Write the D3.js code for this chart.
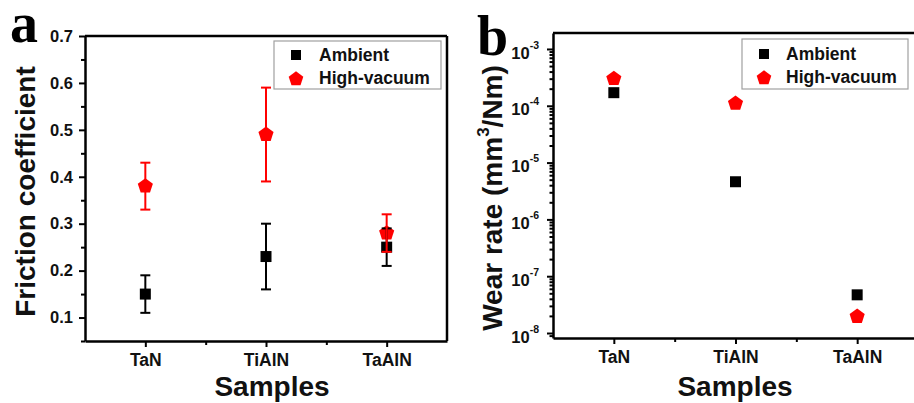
<!DOCTYPE html>
<html>
<head>
<meta charset="utf-8">
<script src="https://cdn.jsdelivr.net/npm/d3@7"></script>
<style>
  html, body { margin: 0; padding: 0; background: #fff; }
  svg { display: block; font-family: "Liberation Sans", Arial, sans-serif; }
</style>
</head>
<body>
<svg id="chart" width="914" height="403"></svg>
<script>
// ---------------- data ----------------
const categories = ["TaN", "TiAlN", "TaAlN"];
const seriesNames = ["Ambient", "High-vacuum"];
const frictionAmbient = [0.15, 0.23, 0.25];
const frictionAmbientErr = [0.04, 0.07, 0.04];
const frictionVacuum = [0.38, 0.49, 0.28];
const frictionVacuumErr = [0.05, 0.10, 0.04];
const wearAmbient = [1.7e-4, 4.6e-6, 4.7e-8];
const wearVacuum = [3.0e-4, 1.1e-4, 1.95e-8];
const frictionTicks = [0.1, 0.2, 0.3, 0.4, 0.5, 0.6, 0.7];
const frictionMinorTicks = [0.05, 0.15, 0.25, 0.35, 0.45, 0.55, 0.65];
const wearExponents = [-8, -7, -6, -5, -4, -3];

// ---------------- helpers ----------------
const svg = d3.select("#chart");
const RED = "#ff0000";

const pentagon = {
  draw(context, size) {
    const r = Math.sqrt(size / 2.3776);
    for (let i = 0; i < 5; i++) {
      const a = -Math.PI / 2 + i * 2 * Math.PI / 5;
      const x = r * Math.cos(a), y = r * Math.sin(a);
      if (i === 0) context.moveTo(x, y); else context.lineTo(x, y);
    }
    context.closePath();
  }
};
const squareSym = d3.symbol().type(d3.symbolSquare).size(121);
const pentSym = d3.symbol().type(pentagon).size(150);
const squareLeg = d3.symbol().type(d3.symbolSquare).size(100);
const pentLeg = d3.symbol().type(pentagon).size(140);

function styleAxis(g) {
  g.select(".domain").attr("stroke", "#000").attr("stroke-width", 2.5);
  g.selectAll(".tick line").attr("stroke", "#000").attr("stroke-width", 2);
  g.selectAll(".tick text").attr("fill", "#111").attr("font-weight", "bold");
}

function drawXAxis(g, x, yPos) {
  const idx = categories.map((d, i) => i + 1);
  const ax = g.append("g").attr("transform", `translate(0,${yPos})`)
    .call(d3.axisBottom(x).tickValues(idx).tickSize(6).tickSizeOuter(0)
      .tickPadding(7).tickFormat((d) => categories[d - 1]));
  ax.selectAll(".tick text").attr("font-size", 17.5);
  styleAxis(ax);
  const minor = g.append("g").attr("transform", `translate(0,${yPos})`)
    .call(d3.axisBottom(x).tickValues([1.5, 2.5]).tickSize(4).tickSizeOuter(0).tickFormat(""));
  minor.select(".domain").remove();
  styleAxis(minor);
}

function drawLegend(g, x0, y0, x1, y1, mx, tx, rows) {
  g.append("rect").attr("x", x0).attr("y", y0).attr("width", x1 - x0).attr("height", y1 - y0)
    .attr("fill", "#fff").attr("stroke", "#a0a0a0").attr("stroke-width", 1.2);
  rows.forEach((r) => {
    g.append("path").attr("d", r.sym()).attr("fill", r.color)
      .attr("transform", `translate(${mx},${r.my})`);
    g.append("text").attr("x", tx).attr("y", r.ty).attr("font-size", 17.5)
      .attr("font-weight", "bold").attr("fill", "#111").text(r.label);
  });
}

// ================= Panel a =================
{
  const g = svg.append("g");
  const x = d3.scaleLinear().domain([0.5, 3.5]).range([85, 447]);
  const y = d3.scaleLinear().domain([0.05, 0.7]).range([341, 36]);

  g.append("line").attr("x1", x.range()[0]).attr("x2", x.range()[1])
    .attr("y1", y.range()[1]).attr("y2", y.range()[1]).attr("stroke", "#000").attr("stroke-width", 2.5);
  g.append("line").attr("x1", x.range()[1]).attr("x2", x.range()[1])
    .attr("y1", y.range()[1]).attr("y2", y.range()[0]).attr("stroke", "#000").attr("stroke-width", 2.5);

  const ya = g.append("g").attr("transform", `translate(${x.range()[0]},0)`)
    .call(d3.axisLeft(y).tickValues(frictionTicks).tickSize(6).tickSizeOuter(0)
      .tickPadding(6).tickFormat(d3.format(".1f")));
  ya.selectAll(".tick text").attr("font-size", 16.5);
  styleAxis(ya);
  const yam = g.append("g").attr("transform", `translate(${x.range()[0]},0)`)
    .call(d3.axisLeft(y).tickValues(frictionMinorTicks).tickSize(4).tickSizeOuter(0).tickFormat(""));
  yam.select(".domain").remove();
  styleAxis(yam);

  drawXAxis(g, x, y.range()[0]);

  g.selectAll(".amb").data(frictionAmbient).join("path")
    .attr("d", squareSym()).attr("fill", "#000")
    .attr("transform", (d, i) => `translate(${x(i + 1)},${y(d)})`);
  g.selectAll(".vac").data(frictionVacuum).join("path")
    .attr("d", pentSym()).attr("fill", RED)
    .attr("transform", (d, i) => `translate(${x(i + 1)},${y(d)})`);

  function errBars(vals, errs, color) {
    vals.forEach((v, i) => {
      const cx = x(i + 1), hi = y(v + errs[i]), lo = y(v - errs[i]);
      g.append("line").attr("x1", cx).attr("x2", cx).attr("y1", hi).attr("y2", lo)
        .attr("stroke", color).attr("stroke-width", 2);
      [hi, lo].forEach((yy) => g.append("line").attr("x1", cx - 5).attr("x2", cx + 5)
        .attr("y1", yy).attr("y2", yy).attr("stroke", color).attr("stroke-width", 2));
    });
  }
  errBars(frictionAmbient, frictionAmbientErr, "#000");
  errBars(frictionVacuum, frictionVacuumErr, RED);

  drawLegend(g, 274, 41, 441, 89, 296, 319, [
    { sym: squareLeg, color: "#000", my: 55, ty: 61, label: seriesNames[0] },
    { sym: pentLeg, color: RED, my: 79, ty: 84, label: seriesNames[1] }
  ]);

  g.append("text").attr("transform", "translate(35,191.5) rotate(-90)")
    .attr("text-anchor", "middle").attr("font-size", 28).attr("font-weight", "bold")
    .attr("fill", "#111").text("Friction coefficient");
  g.append("text").attr("x", 272).attr("y", 396).attr("text-anchor", "middle")
    .attr("font-size", 28).attr("font-weight", "bold").attr("fill", "#111").text("Samples");
  g.append("text").attr("x", 10).attr("y", 42)
    .attr("font-family", "'Liberation Serif', 'Times New Roman', serif")
    .attr("font-size", 56).attr("font-weight", "bold").attr("fill", "#000").text("a");
}

// ================= Panel b =================
{
  const g = svg.append("g");
  const x = d3.scaleLinear().domain([0.5, 3.5]).range([553, 918]);
  const y = d3.scaleLog().domain([8.17e-9, 1.91e-3]).range([338, 33]);

  g.append("line").attr("x1", x.range()[0]).attr("x2", x.range()[1])
    .attr("y1", y.range()[1]).attr("y2", y.range()[1]).attr("stroke", "#000").attr("stroke-width", 2.5);
  g.append("line").attr("x1", x.range()[1]).attr("x2", x.range()[1])
    .attr("y1", y.range()[1]).attr("y2", y.range()[0]).attr("stroke", "#000").attr("stroke-width", 2.5);

  const majors = wearExponents.map((e) => Math.pow(10, e));
  const minors = [];
  wearExponents.concat([-9, -2]).forEach((e) => {
    for (let k = 2; k <= 9; k++) {
      const v = k * Math.pow(10, e);
      if (v > y.domain()[0] && v < y.domain()[1]) minors.push(v);
    }
  });

  const ya = g.append("g").attr("transform", `translate(${x.range()[0]},0)`)
    .call(d3.axisLeft(y).tickValues(majors).tickSize(6).tickSizeOuter(0).tickPadding(8)
      .tickFormat(() => ""));
  styleAxis(ya);
  ya.selectAll(".tick text").each(function (d) {
    const t = d3.select(this).attr("font-size", 16.5).attr("dy", "0.55em");
    t.append("tspan").text("10");
    t.append("tspan").attr("font-size", 10.5).attr("dy", "-0.95em")
      .text(String(Math.round(Math.log10(d))));
  });
  const yam = g.append("g").attr("transform", `translate(${x.range()[0]},0)`)
    .call(d3.axisLeft(y).tickValues(minors).tickSize(3.5).tickSizeOuter(0).tickFormat(""));
  yam.select(".domain").remove();
  styleAxis(yam);

  drawXAxis(g, x, y.range()[0]);

  g.selectAll(".amb").data(wearAmbient).join("path")
    .attr("d", squareSym()).attr("fill", "#000")
    .attr("transform", (d, i) => `translate(${x(i + 1)},${y(d)})`);
  g.selectAll(".vac").data(wearVacuum).join("path")
    .attr("d", pentSym()).attr("fill", RED)
    .attr("transform", (d, i) => `translate(${x(i + 1)},${y(d)})`);

  drawLegend(g, 742, 39, 908, 89, 764, 786, [
    { sym: squareLeg, color: "#000", my: 54, ty: 60, label: seriesNames[0] },
    { sym: pentLeg, color: RED, my: 78, ty: 83, label: seriesNames[1] }
  ]);

  const tt = g.append("text").attr("transform", "translate(502,198) rotate(-90)")
    .attr("text-anchor", "middle").attr("font-size", 28).attr("font-weight", "bold")
    .attr("fill", "#111");
  tt.append("tspan").text("Wear rate (mm");
  tt.append("tspan").attr("font-size", 17).attr("dy", "-0.75em").text("3");
  tt.append("tspan").attr("dy", "0.455em").text("/Nm)");

  g.append("text").attr("x", 735).attr("y", 396).attr("text-anchor", "middle")
    .attr("font-size", 28).attr("font-weight", "bold").attr("fill", "#111").text("Samples");
  g.append("text").attr("x", 477).attr("y", 55)
    .attr("font-family", "'Liberation Serif', 'Times New Roman', serif")
    .attr("font-size", 56).attr("font-weight", "bold").attr("fill", "#000").text("b");
}
</script>
</body>
</html>
